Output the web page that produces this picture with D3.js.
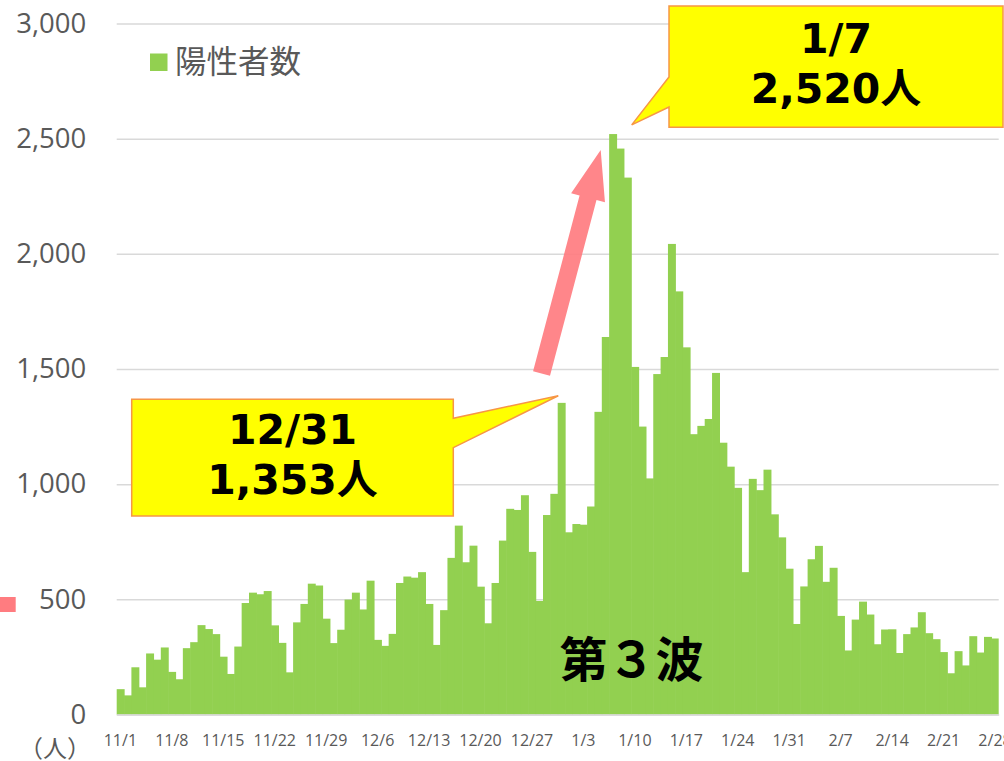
<!DOCTYPE html>
<html>
<head>
<meta charset="utf-8">
<script src="https://cdn.jsdelivr.net/npm/d3@7"></script>
<style>
  html, body { margin: 0; padding: 0; background: #fff; }
  svg { display: block; }
</style>
</head>
<body>
<svg id="chart" width="1004" height="761"></svg>
<script>
// ---- data ----
const startDate = new Date(2020, 10, 1);
const endDate = new Date(2021, 2, 1);
const seriesName = "陽性者数";
const novValues = [110, 83, 205, 118, 265, 238, 291, 185, 153, 288, 314, 388, 371, 349, 251, 176, 295, 484, 529, 522, 536, 387, 311, 183, 400, 480, 568, 560, 416, 310];
const decValues = [368, 499, 529, 456, 581, 324, 298, 350, 571, 599, 594, 618, 480, 302, 453, 680, 820, 661, 733, 555, 396, 571, 755, 893, 888, 952, 706, 493, 866, 958, 1353];
const janValues = [791, 827, 824, 903, 1314, 1639, 2520, 2457, 2331, 1509, 1250, 1025, 1478, 1552, 2043, 1837, 1594, 1217, 1253, 1283, 1483, 1180, 1076, 984, 618, 1023, 974, 1063, 869, 769, 633];
const febValues = [393, 556, 674, 732, 576, 637, 428, 278, 412, 490, 434, 305, 369, 370, 267, 349, 378, 444, 353, 327, 271, 179, 275, 213, 340, 269, 337, 330];
const tickLabels = ["11/1", "11/8", "11/15", "11/22", "11/29", "12/6", "12/13", "12/20", "12/27", "1/3", "1/10", "1/17", "1/24", "1/31", "2/7", "2/14", "2/21", "2/28"];
const yTicks = [0, 500, 1000, 1500, 2000, 2500, 3000];
const callout1Lines = ["12/31", "1,353人"];
const callout2Lines = ["1/7", "2,520人"];
const waveLabel = "第３波";
const unitLabel = "（人）";

// ---- build ----
const categories = d3.timeDay.range(startDate, endDate).map(d => `${d.getMonth() + 1}/${d.getDate()}`);
const values = [...novValues, ...decValues, ...janValues, ...febValues];
const data = categories.map((c, i) => ({ c, i, v: values[i] }));

const svg = d3.select("#chart");
const plotLeft = 116.7, plotRight = 998.7, plotTop = 23.5, plotBottom = 714.5;

const x = d3.scaleBand().domain(categories).range([plotLeft, plotRight]).padding(0);
const xi = d3.scaleLinear().domain([0, categories.length]).range([plotLeft, plotRight]); // fractional index for annotations
const y = d3.scaleLinear().domain([0, 3000]).range([plotBottom, plotTop]);

const grey = "#595959";
const green = "#92D050";

// gridlines
svg.append("g")
  .attr("transform", `translate(${plotLeft},0)`)
  .call(d3.axisLeft(y).tickValues(yTicks).tickSize(-(plotRight - plotLeft)).tickFormat(""))
  .call(g => g.select(".domain").remove())
  .call(g => g.selectAll("line").attr("stroke", "#D9D9D9").attr("stroke-width", 1.5));

// y labels
svg.append("g")
  .attr("transform", `translate(${plotLeft},0)`)
  .call(d3.axisLeft(y).tickValues(yTicks).tickSize(0).tickPadding(30.5).tickFormat(d3.format(",")))
  .call(g => g.select(".domain").remove())
  .call(g => g.selectAll("text")
    .attr("fill", grey)
    .style("font-family", "'Open Sans', sans-serif")
    .style("font-size", "27.5px"));

// bars (slight overlap so neighbouring bars merge like the reference)
svg.append("g").selectAll("rect")
  .data(data)
  .join("rect")
  .attr("x", d => x(d.c))
  .attr("width", (d, i) => x.bandwidth() + (i < data.length - 1 ? 0.6 : 0))
  .attr("y", d => y(d.v))
  .attr("height", d => y(0) - y(d.v))
  .attr("fill", green);

// x axis
svg.append("g")
  .attr("transform", `translate(0,${plotBottom})`)
  .call(d3.axisBottom(x).tickValues(tickLabels).tickSize(0).tickPadding(20))
  .call(g => g.select(".domain").attr("stroke", "#D9D9D9").attr("stroke-width", 1.5))
  .call(g => g.selectAll("text")
    .attr("fill", grey)
    .style("font-family", "'Open Sans', sans-serif")
    .style("font-size", "16px"));

// unit label
svg.append("text")
  .attr("x", 55).attr("y", 757)
  .attr("text-anchor", "middle")
  .attr("fill", grey)
  .style("font-family", "'Noto Sans CJK JP', sans-serif")
  .style("font-size", "24px")
  .text(unitLabel);

// legend
svg.append("rect").attr("x", 150).attr("y", 53.5).attr("width", 17.5).attr("height", 17.5).attr("fill", green);
svg.append("text")
  .attr("x", 175).attr("y", 72.5)
  .attr("fill", grey)
  .style("font-family", "'Noto Sans CJK JP', sans-serif")
  .style("font-size", "31.5px")
  .text(seriesName);

// partially visible legend marker on the left edge
svg.append("rect").attr("x", 0).attr("y", 597).attr("width", 15.7).attr("height", 15).attr("fill", "#FF7C80");

// red arrow (from data-space anchors)
(function () {
  const p0 = [xi(57.8), y(1480)];
  const p1 = [xi(65.85), y(2451)];
  const dx = p1[0] - p0[0], dy = p1[1] - p0[1];
  const L = Math.hypot(dx, dy);
  const ux = dx / L, uy = dy / L, px = -uy, py = ux;
  const shaftW = 17.5, headW = 35, headL = 49.5;
  const hb = [p1[0] - ux * headL, p1[1] - uy * headL];
  const pts = [
    [p0[0] + px * shaftW / 2, p0[1] + py * shaftW / 2],
    [hb[0] + px * shaftW / 2, hb[1] + py * shaftW / 2],
    [hb[0] + px * headW / 2, hb[1] + py * headW / 2],
    p1,
    [hb[0] - px * headW / 2, hb[1] - py * headW / 2],
    [hb[0] - px * shaftW / 2, hb[1] - py * shaftW / 2],
    [p0[0] - px * shaftW / 2, p0[1] - py * shaftW / 2]
  ];
  svg.append("path")
    .attr("d", d3.line()(pts) + "Z")
    .attr("fill", "#FF7C80")
    .attr("opacity", 0.92);
})();

// callouts
function callout(box, tailBase, tip, side, lines, baselines) {
  const [x0, y0, x1, y1] = box;
  let pts;
  if (side === "right") {
    pts = [[x0, y0], [x1, y0], [x1, tailBase[0]], tip, [x1, tailBase[1]], [x1, y1], [x0, y1]];
  } else {
    pts = [[x0, y0], [x1, y0], [x1, y1], [x0, y1], [x0, tailBase[1]], tip, [x0, tailBase[0]]];
  }
  svg.append("path")
    .attr("d", d3.line()(pts) + "Z")
    .attr("fill", "#FFFF00")
    .attr("stroke", "#F79646")
    .attr("stroke-width", 1.5)
    .attr("stroke-linejoin", "miter");
  const cx = (x0 + x1) / 2;
  lines.forEach((t, k) => {
    svg.append("text")
      .attr("x", cx).attr("y", baselines[k])
      .attr("text-anchor", "middle")
      .attr("fill", "#000")
      .style("font-family", "'DejaVu Sans', 'Noto Sans CJK JP', sans-serif")
      .style("font-weight", "bold")
      .style("font-size", "41px")
      .text(t);
  });
}
callout([131.7, 399.3, 453.3, 516], [418.3, 447.7], [xi(60.08), y(1384)], "right", callout1Lines, [443.5, 493.5]);
callout([669, 6, 1003, 127.3], [77, 107], [xi(70.07), y(2560)], "left", callout2Lines, [53, 103]);

// wave label
svg.append("text")
  .attr("x", 631.5).attr("y", 677)
  .attr("text-anchor", "middle")
  .attr("fill", "#000")
  .style("font-family", "'Noto Sans CJK JP', sans-serif")
  .style("font-weight", "bold")
  .style("font-size", "48px")
  .text(waveLabel);
</script>
</body>
</html>
